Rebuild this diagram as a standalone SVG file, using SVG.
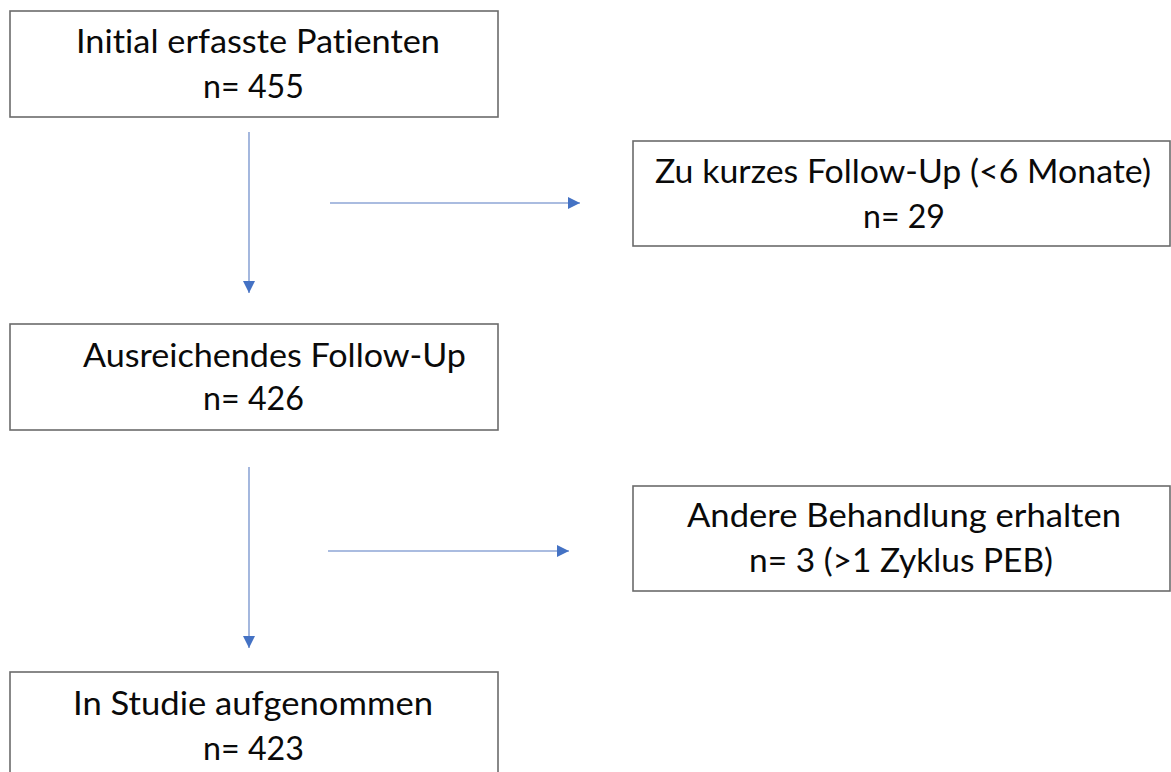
<svg xmlns="http://www.w3.org/2000/svg" width="1171" height="772" viewBox="0 0 1171 772">
<style>
.box{fill:#ffffff;stroke:#6b6b6b;stroke-width:1.6}
.t{font-family:Lato,"Liberation Sans",Arial,sans-serif;font-size:32px;fill:#0a0a0a;text-anchor:middle;font-variant-ligatures:none;font-feature-settings:"liga" 0,"clig" 0}
.c{stroke:#8ea6d6;stroke-width:1.6;fill:none}
</style>
<defs>
<marker id="ah" markerWidth="12" markerHeight="12" refX="12" refY="6" orient="auto" markerUnits="userSpaceOnUse">
<path d="M0,0 L12,6 L0,12 Z" fill="#4472c4"/>
</marker>
</defs>
<rect width="1171" height="772" fill="#ffffff"/>
<g id="connectors">
<line class="c" x1="249" y1="132" x2="249" y2="293" marker-end="url(#ah)"/>
<line class="c" x1="330" y1="203" x2="580" y2="203" marker-end="url(#ah)"/>
<line class="c" x1="249" y1="467" x2="249" y2="648" marker-end="url(#ah)"/>
<line class="c" x1="328" y1="551" x2="569" y2="551" marker-end="url(#ah)"/>
</g>
<g id="node-initial">
<rect class="box" x="10" y="11" width="488" height="106"/>
<text class="t" x="258" y="53" textLength="364" lengthAdjust="spacingAndGlyphs">Initial erfasste Patienten</text>
<text class="t" x="253.5" y="98" textLength="101" lengthAdjust="spacingAndGlyphs">n= 455</text>
</g>
<g id="node-kurz">
<rect class="box" x="633" y="141" width="537" height="105"/>
<text class="t" x="903" y="183" textLength="496" lengthAdjust="spacingAndGlyphs">Zu kurzes Follow-Up (&lt;6 Monate)</text>
<text class="t" x="904" y="228" textLength="82" lengthAdjust="spacingAndGlyphs">n= 29</text>
</g>
<g id="node-ausreichend">
<rect class="box" x="10" y="324" width="488" height="106"/>
<text class="t" x="274.5" y="367" textLength="383" lengthAdjust="spacingAndGlyphs">Ausreichendes Follow-Up</text>
<text class="t" x="253.5" y="410" textLength="101" lengthAdjust="spacingAndGlyphs">n= 426</text>
</g>
<g id="node-andere">
<rect class="box" x="633" y="486" width="537" height="105"/>
<text class="t" x="904" y="527" textLength="434" lengthAdjust="spacingAndGlyphs">Andere Behandlung erhalten</text>
<text class="t" x="901" y="572" textLength="304" lengthAdjust="spacingAndGlyphs">n= 3 (&gt;1 Zyklus PEB)</text>
</g>
<g id="node-studie">
<rect class="box" x="10" y="672" width="488" height="106"/>
<text class="t" x="253" y="715" textLength="360" lengthAdjust="spacingAndGlyphs">In Studie aufgenommen</text>
<text class="t" x="253.5" y="760" textLength="101" lengthAdjust="spacingAndGlyphs">n= 423</text>
</g>
</svg>
